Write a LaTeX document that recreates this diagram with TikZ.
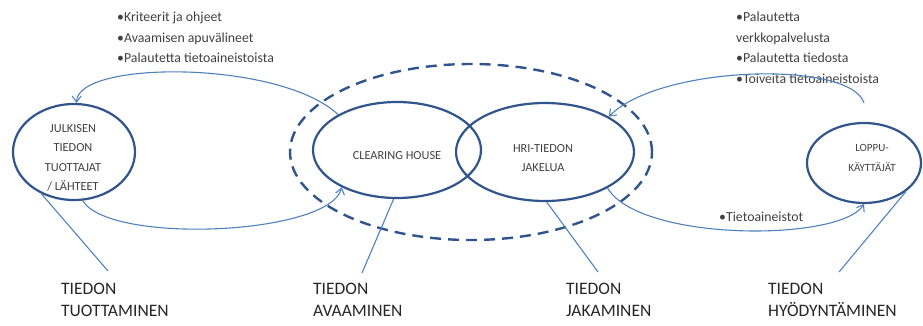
\documentclass[tikz,border=0pt]{standalone}
\usepackage{fontspec}
\setmainfont{Carlito}
\usetikzlibrary{shapes.geometric,arrows.meta}
\definecolor{ellblue}{RGB}{47,85,140}
\definecolor{lineblue}{RGB}{79,129,189}
\definecolor{txtgray}{RGB}{64,64,64}
\definecolor{lblblack}{RGB}{38,38,38}
\tikzset{
  ell/.style={ellipse,draw=ellblue,line width=2.2pt,inner sep=0pt},
  dashell/.style={ellipse,draw=ellblue,line width=2.4pt,dash pattern=on 11pt off 7pt,inner sep=0pt},
  thin/.style={draw=lineblue,line width=1.1pt},
  arr/.style={thin,-{Straight Barb[length=6pt,width=9pt,line width=1.1pt]}},
  small/.style={text=txtgray,font=\fontsize{13.8}{20.5}\selectfont,align=left,inner sep=0pt},
  intext/.style={text=txtgray,font=\fontsize{12.3}{19.5}\selectfont,align=center,inner sep=0pt},
  biglbl/.style={text=lblblack,font=\fontsize{17.5}{22}\selectfont,align=left,inner sep=0pt,anchor=north west}
}
\begin{document}
\begin{tikzpicture}[x=1pt,y=-1pt]
\useasboundingbox (0,0) rectangle (923,325);
% ellipses
\node[dashell,minimum width=362pt,minimum height=176pt] (dash) at (471,152) {};
\node[ell,minimum width=122pt,minimum height=96pt] (left) at (74,152) {};
\node[ell,minimum width=168pt,minimum height=96pt] (clear) at (397,150) {};
\node[ell,minimum width=178pt,minimum height=98pt] (hri) at (545,152) {};
\node[ell,minimum width=114pt,minimum height=80pt] (loppu) at (864,163) {};
% ellipse texts
\node[intext] (tleft) at (73,158) {JULKISEN\\TIEDON\\TUOTTAJAT\\/ LÄHTEET};
\node[intext] (tclear) at (397,156) {CLEARING HOUSE};
\node[intext] (thri) at (543,158) {HRI-TIEDON\\JAKELUA};
\node[intext,font=\fontsize{11}{19.5}\selectfont] (tloppu) at (872,158) {LOPPU-\\KÄYTTÄJÄT};
% top texts
\node[small,anchor=north west] (tl) at (117,12) {•Kriteerit ja ohjeet\\•Avaamisen apuvälineet\\•Palautetta tietoaineistoista};
\node[small,anchor=north west] (tr) at (736,12) {•Palautetta\\verkkopalvelusta\\•Palautetta tiedosta\\•Toiveita tietoaineistoista};
\node[small,anchor=west] (tdata) at (719,217) {•Tietoaineistot};
% bottom labels
\node[biglbl] (l1) at (61,283) {TIEDON\\TUOTTAMINEN};
\node[biglbl] (l2) at (313,283) {TIEDON\\AVAAMINEN};
\node[biglbl] (l3) at (566,283) {TIEDON\\JAKAMINEN};
\node[biglbl] (l4) at (768,283) {TIEDON\\HYÖDYNTÄMINEN};
\coordinate (c1) at (108,271);
\coordinate (c2) at (362,273);
\coordinate (c3) at (598,272);
\coordinate (c4) at (839,272);
\draw[thin] (left.232) -- (c1);
\draw[thin] (clear.266) -- (c2);
\draw[thin] (hri.272) -- (c3);
\draw[thin] (loppu.326) -- (c4);
% curved arrows
\draw[arr] (clear.149) .. controls (280,60) and (77,60) .. (left.87);
\draw[arr] (left.280) .. controls (110,245) and (330,235) .. (clear.214);
\draw[arr] ([yshift=19pt]loppu.north) .. controls (850,60) and (660,65) .. (hri.29);
\draw[arr] (hri.330) .. controls (640,242) and (840,242) .. (loppu.south);
\end{tikzpicture}
\end{document}
